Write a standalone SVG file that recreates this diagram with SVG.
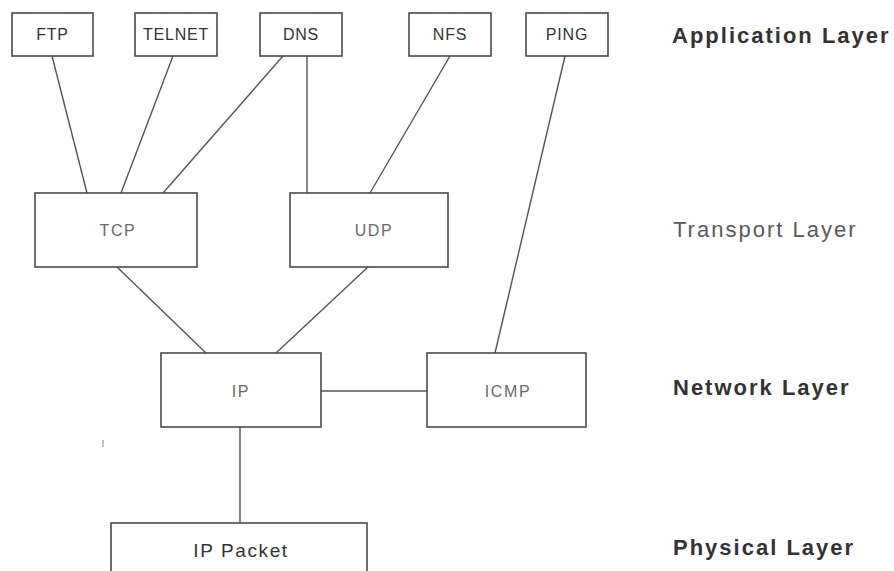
<svg xmlns="http://www.w3.org/2000/svg" width="894" height="571" viewBox="0 0 894 571">
  <style>
    .box { fill: #ffffff; stroke: #4a4a4a; stroke-width: 1.6; }
    .lbl { font-family: "Liberation Sans", Arial, sans-serif; font-size: 16px; fill: #333333; text-anchor: middle; letter-spacing: 0.8px; }
    .lbl.soft { fill: #6a6a6a; letter-spacing: 1.6px; }
    .lbl.big { font-size: 19px; letter-spacing: 1.6px; }
    .link { stroke: #555555; stroke-width: 1.4; fill: none; }
    .layer { font-family: "Liberation Sans", Arial, sans-serif; font-size: 22px; letter-spacing: 2px; fill: #333333; font-weight: bold; }
    .layer.soft { fill: #5a5a5a; font-weight: normal; }
  </style>
  <rect width="894" height="571" fill="#ffffff"/>

  <!-- connectors -->
  <g id="connectors">
    <line class="link" x1="52" y1="56" x2="87" y2="193"/>
    <line class="link" x1="173" y1="56" x2="121" y2="193"/>
    <line class="link" x1="283" y1="56" x2="163" y2="193"/>
    <line class="link" x1="307" y1="56" x2="307" y2="193"/>
    <line class="link" x1="450" y1="56" x2="370" y2="193"/>
    <line class="link" x1="565" y1="56" x2="495" y2="353"/>
    <line class="link" x1="117" y1="267" x2="206" y2="353"/>
    <line class="link" x1="368" y1="267" x2="276" y2="353"/>
    <line class="link" x1="321" y1="391" x2="427" y2="391"/>
    <line class="link" x1="240" y1="427" x2="240" y2="523"/>
  </g>

  <!-- application layer -->
  <g id="ftp"><rect class="box" x="12" y="13" width="81" height="43"/><text class="lbl" x="52.5" y="40">FTP</text></g>
  <g id="telnet"><rect class="box" x="135" y="13" width="82" height="43"/><text class="lbl" x="176" y="40">TELNET</text></g>
  <g id="dns"><rect class="box" x="260" y="13" width="82" height="43"/><text class="lbl" x="301" y="40">DNS</text></g>
  <g id="nfs"><rect class="box" x="409" y="13" width="82" height="43"/><text class="lbl" x="450" y="40">NFS</text></g>
  <g id="ping"><rect class="box" x="526" y="13" width="82" height="43"/><text class="lbl" x="567" y="40">PING</text></g>

  <!-- transport layer -->
  <g id="tcp"><rect class="box" x="35" y="193" width="162" height="74"/><text class="lbl soft" x="118" y="236">TCP</text></g>
  <g id="udp"><rect class="box" x="290" y="193" width="158" height="74"/><text class="lbl soft" x="374" y="236">UDP</text></g>

  <!-- network layer -->
  <g id="ip"><rect class="box" x="161" y="353" width="160" height="74"/><text class="lbl soft" x="241" y="397">IP</text></g>
  <g id="icmp"><rect class="box" x="427" y="353" width="159" height="74"/><text class="lbl soft" x="508" y="397">ICMP</text></g>

  <!-- physical layer -->
  <g id="ip-packet"><rect class="box" x="111" y="523" width="256" height="60"/><text class="lbl big" x="241" y="557">IP Packet</text></g>

  <!-- small stray mark -->
  <line x1="103" y1="440" x2="103" y2="447" stroke="#999999" stroke-width="1.2"/>

  <!-- layer names -->
  <g id="layer-names">
    <text class="layer" x="672" y="43">Application Layer</text>
    <text class="layer soft" x="673" y="237">Transport Layer</text>
    <text class="layer" x="673" y="395">Network Layer</text>
    <text class="layer" x="673" y="555">Physical Layer</text>
  </g>
</svg>
